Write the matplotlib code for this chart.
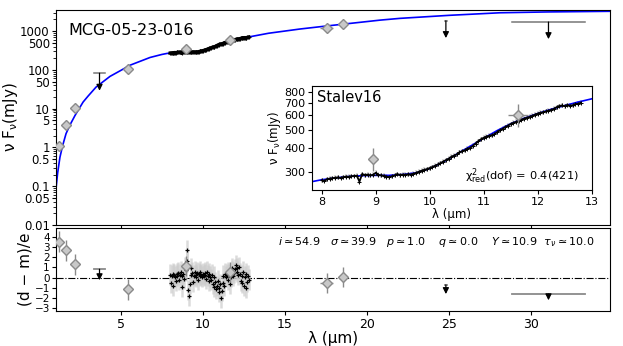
import matplotlib
matplotlib.use('Agg')
import matplotlib.pyplot as plt
import numpy as np
from matplotlib.ticker import NullLocator, LogLocator, NullFormatter

# ---- model curve
model_wl = [1.05, 1.15, 1.29, 1.45, 1.66, 1.9, 2.21, 2.7, 3.0, 3.49, 4.34, 5.0, 5.56, 6.78, 7.5,
            7.8, 8.0, 8.25, 8.5, 8.75, 9.0, 9.25, 9.5, 9.75, 10.0, 10.25, 10.5, 10.75, 11.0, 11.25,
            11.5, 11.75, 12.0, 12.25, 12.5, 12.75, 13.0, 14.0, 15.9, 17.5, 20.8, 22.0, 25.0, 28.1,
            31.0, 34.8]
model_fl = [0.087, 0.22, 0.56, 1.1, 2.26, 3.8, 6.7, 14.8, 21, 36, 68, 97, 132, 209, 250,
            265, 272, 278, 283, 286, 287, 287, 290, 296, 312, 338, 372, 410, 452, 497,
            540, 578, 612, 645, 675, 705, 733, 880, 1130, 1350, 1920, 2130, 2550, 2970,
            3120, 3240]

# ---- photometry (diamonds)
phot_wl = [1.25, 1.66, 2.2, 5.45, 8.95, 11.64, 17.55, 18.55]
phot_fl = [1.1, 3.7, 10.5, 104, 351, 603, 1174, 1516]
phot_xerr = [0, 0, 0, 0, 0, 0.19, 0.4, 0]
phot_res = [3.5, 2.65, 1.3, -1.15, 1.15, 0.55, -0.5, 0.05]

# ---- upper limits
ul_wl = [3.7, 24.8, 31.05]
ul_xerr = [0.31, 0.08, 2.25]
ul_top = [82, 1845, 1710]
ul_tip = [29, 660, 620]
ul_res_top = [0.82, -0.7, -1.6]
ul_res_tip = [-0.25, -1.6, -2.2]

# ---- Stalev16 spectrum
spec_wl = [8.00, 8.05, 8.10, 8.15, 8.20, 8.25, 8.30, 8.35, 8.40, 8.45,
           8.50, 8.55, 8.60, 8.65, 8.70, 8.75, 8.80, 8.85, 8.90, 8.95,
           9.00, 9.05, 9.10, 9.15, 9.20, 9.25, 9.30, 9.35, 9.40, 9.45,
           9.50, 9.55, 9.60, 9.65, 9.70, 9.75, 9.80, 9.85, 9.90, 9.95,
           10.00, 10.05, 10.10, 10.15, 10.20, 10.25, 10.30, 10.35, 10.40, 10.45,
           10.50, 10.55, 10.60, 10.65, 10.70, 10.75, 10.80, 10.85, 10.90, 10.95,
           11.00, 11.05, 11.10, 11.15, 11.20, 11.25, 11.30, 11.35, 11.40, 11.45,
           11.50, 11.55, 11.60, 11.65, 11.70, 11.75, 11.80, 11.85, 11.90, 11.95,
           12.00, 12.05, 12.10, 12.15, 12.20, 12.25, 12.30, 12.35, 12.40, 12.45,
           12.50, 12.55, 12.60, 12.65, 12.70, 12.75, 12.80]
spec_fl = [270, 268, 274, 276, 277, 279, 280, 278, 281, 283,
           282, 284, 285, 286, 266, 292, 288, 290, 287, 289,
           296, 289, 287, 286, 283, 281, 284, 287, 292, 288,
           290, 289, 291, 290, 293, 296, 300, 304, 307, 310,
           314, 318, 323, 328, 333, 340, 346, 352, 360, 366,
           371, 380, 386, 390, 398, 402, 412, 424, 436, 447,
           455, 462, 466, 470, 476, 488, 498, 508, 518, 528,
           538, 546, 553, 560, 568, 575, 582, 588, 595, 604,
           612, 618, 622, 628, 634, 640, 648, 662, 672, 676,
           670, 680, 674, 678, 688, 690, 700]
spec_res = [0.3, -0.5, 0.2, 0.4, -0.8, 0.3, 0.1, -0.3, 0.4, 0.2,
            0.5, -0.2, 0.3, 0.6, -0.9, 0.2, 0.4, -0.1, 1.0, 0.7,
            2.7, 1.6, -1.2, -1.8, -0.6, 0.9, 0.3, 0.5, -0.4, 0.2,
            0.6, 0.3, 0.1, 0.5, -0.2, 0.4, 0.2, 0.6, 0.3, 0.1,
            0.4, 0.2, 0.5, 0.3, -0.1, 0.6, 0.2, 0.4, -0.3, 0.1,
            -0.2, 0.3, -0.6, -0.9, 0.1, -0.4, -1.1, -0.8, -0.3, -1.4,
            -1.0, -0.6, -2.0, -1.3, -0.5, 0.2, -0.8, 0.4, 0.1, 0.3,
            -0.2, 0.5, 0.3, -0.6, 0.1, 0.6, 0.9, 0.2, 0.5, 0.8,
            1.2, 0.6, 0.9, 0.3, 1.0, 0.4, -0.3, 0.2, -0.5, 0.6,
            -0.8, 0.1, -1.0, 0.4, -0.4, 0.2, -0.2]

main_yticks = [0.01, 0.05, 0.1, 0.5, 1, 5, 10, 50, 100, 500, 1000]
main_yticklabels = ['0.01', '0.05', '0.1', '0.5', '1', '5', '10', '50', '100', '500', '1000']
inset_yticks = [300, 400, 500, 600, 700, 800]

params_txt = (r'$i \simeq 54.9$   $\sigma \simeq 39.9$   $p \simeq 1.0$    '
              r'$q \simeq 0.0$    $Y \simeq 10.9$  $\tau_\nu \simeq 10.0$')

plt.rcParams['font.family'] = ['DejaVu Sans']
plt.rcParams['mathtext.fontset'] = 'dejavusans'
plt.rcParams['xtick.major.size'] = 3
plt.rcParams['ytick.major.size'] = 3
plt.rcParams['ytick.minor.size'] = 2
plt.rcParams['xtick.major.pad'] = 2
plt.rcParams['ytick.major.pad'] = 1.5

dcol = '#c8c8c8'   # diamond face
ecol = '#8a8a8a'   # diamond edge / error bars

fig = plt.figure(figsize=(6.23, 3.46), dpi=100)
ax = fig.add_axes([0.0899, 0.3497, 0.8893, 0.6214])
ax2 = fig.add_axes([0.0899, 0.101, 0.8893, 0.239])
axi = fig.add_axes([0.5003, 0.451, 0.4494, 0.301])

xlim = (1.05, 34.8)

# ---------------- main panel
ax.plot(model_wl, model_fl, color='#0000ff', lw=1.2, zorder=2)
ax.plot(spec_wl, spec_fl, color='k', lw=2.4, zorder=3)
ax.plot(spec_wl, spec_fl, '+', color='k', ms=3, mew=0.8, zorder=3)
ax.errorbar(phot_wl, phot_fl, xerr=phot_xerr, fmt='D', ms=5, mfc=dcol, mec=ecol,
            ecolor=ecol, elinewidth=1, capsize=0, zorder=4)
for x, xe, top, tip in zip(ul_wl, ul_xerr, ul_top, ul_tip):
    ax.plot([x - xe, x + xe], [top, top], color='#777777', lw=1.1, zorder=3)
    ax.annotate('', xy=(x, tip), xytext=(x, top),
                arrowprops=dict(arrowstyle='-|>', color='k', lw=0.9,
                                mutation_scale=9, shrinkA=0, shrinkB=0))
ax.set_yscale('log')
ax.set_ylim(0.01, 3500)
ax.set_xlim(*xlim)
ax.set_yticks(main_yticks)
ax.set_yticklabels(main_yticklabels)
ax.yaxis.set_minor_locator(LogLocator(base=10, subs=np.arange(2, 10), numticks=20))
ax.yaxis.set_minor_formatter(NullFormatter())
ax.set_xticks([5, 10, 15, 20, 25, 30])
ax.set_xticklabels([])
ax.tick_params(labelsize=8.5)
ax.set_ylabel(r'ν F$_\mathregular{ν}$(mJy)', fontsize=11, labelpad=0)
ax.text(0.022, 0.884, 'MCG-05-23-016', transform=ax.transAxes, fontsize=11.5,
        va='baseline', ha='left')

# ---------------- inset
axi.errorbar(spec_wl, spec_fl, yerr=np.array(spec_fl) * 0.03, fmt='none',
             ecolor='#d8d8d8', elinewidth=1.5, zorder=1)
axi.plot(model_wl, model_fl, color='#0000ff', lw=1.2, zorder=2)
axi.plot(spec_wl, spec_fl, color='k', lw=1.3, zorder=3)
axi.plot(spec_wl, spec_fl, '+', color='k', ms=3, mew=0.7, zorder=3)
axi.errorbar([phot_wl[4], phot_wl[5]], [phot_fl[4], phot_fl[5]],
             xerr=[0, 0.19], yerr=[50, 85], fmt='D', ms=5, mfc=dcol, mec=ecol,
             ecolor=ecol, elinewidth=1, capsize=0, zorder=4)
axi.set_yscale('log')
axi.set_xlim(7.815, 13)
axi.set_ylim(240, 860)
axi.set_yticks(inset_yticks)
axi.set_yticklabels([str(v) for v in inset_yticks])
axi.yaxis.set_minor_locator(NullLocator())
axi.set_xticks([8, 9, 10, 11, 12, 13])
axi.tick_params(labelsize=8)
axi.set_xlabel('λ (μm)', fontsize=8.5, labelpad=1)
axi.set_ylabel(r'ν F$_\mathregular{ν}$(mJy)', fontsize=8.5, labelpad=1)
axi.text(0.02, 0.847, 'Stalev16', transform=axi.transAxes, fontsize=10.5,
         va='baseline', ha='left')
axi.text(0.952, 0.096, r'$\mathregular{χ^2_{red}}$(dof) = 0.4(421)', transform=axi.transAxes,
         fontsize=8.2, va='baseline', ha='right')

# ---------------- residual panel
ax2.axhline(0, color='k', ls='-.', lw=0.8, zorder=1)
ax2.errorbar(spec_wl, spec_res, yerr=1, fmt='none', ecolor='#cccccc', elinewidth=1.8,
             alpha=0.7, zorder=1)
ax2.plot(spec_wl, spec_res, '+', color='k', ms=3.5, mew=0.9, zorder=3)
ax2.errorbar(phot_wl, phot_res, xerr=phot_xerr, yerr=1, fmt='D', ms=5, mfc=dcol, mec=ecol,
             ecolor=ecol, elinewidth=1, capsize=0, zorder=4)
for x, xe, top, tip in zip(ul_wl, ul_xerr, ul_res_top, ul_res_tip):
    ax2.plot([x - xe, x + xe], [top, top], color='#8a8a8a', lw=1.3, zorder=3)
    ax2.annotate('', xy=(x, tip), xytext=(x, top),
                 arrowprops=dict(arrowstyle='-|>', color='k', lw=0.9,
                                 mutation_scale=9, shrinkA=0, shrinkB=0))
ax2.set_xlim(*xlim)
ax2.set_ylim(-3.25, 4.8)
ax2.set_yticks([-3, -2, -1, 0, 1, 2, 3, 4])
ax2.set_xticks([5, 10, 15, 20, 25, 30])
ax2.tick_params(axis='x', labelsize=9)
ax2.tick_params(axis='y', labelsize=7.5)
ax2.set_xlabel('λ (μm)', fontsize=11, labelpad=0)
ax2.set_ylabel('(d − m)/e', fontsize=11, labelpad=1)
ax2.text(0.973, 0.80, params_txt, transform=ax2.transAxes, fontsize=8,
         va='baseline', ha='right')

fig.savefig('out.png', dpi=100)
